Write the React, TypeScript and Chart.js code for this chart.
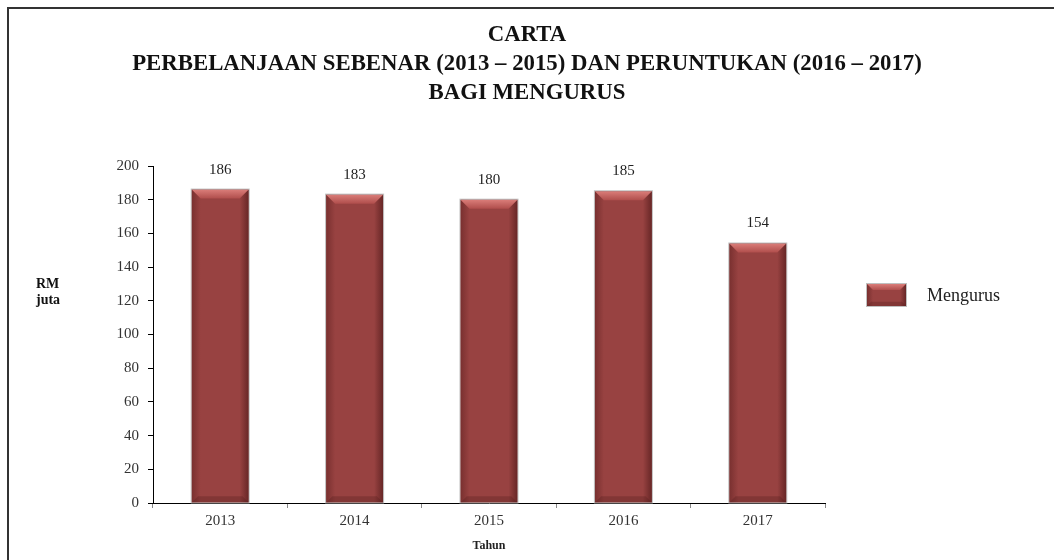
import React, { useEffect, useRef } from "react";
import { Chart, registerables } from "chart.js";

Chart.register(...registerables);

const titleLines = [
  "CARTA",
  "PERBELANJAAN SEBENAR (2013 – 2015) DAN PERUNTUKAN (2016 – 2017)",
  "BAGI MENGURUS",
];
const years = ["2013", "2014", "2015", "2016", "2017"];
const mengurus = [186, 183, 180, 185, 154];
const seriesLabel = "Mengurus";
const yTitleLines = ["RM", "juta"];
const xTitle = "Tahun";

const SERIF = "'Liberation Serif', 'Times New Roman', serif";
const BAR = "#984241";

function drawBevelBox(ctx: CanvasRenderingContext2D, l: number, t: number, r: number, b: number, bev: number) {
  ctx.save();
  ctx.fillStyle = BAR;
  ctx.fillRect(l, t, r - l, b - t);
  // left edge
  let g = ctx.createLinearGradient(l, 0, l + bev, 0);
  g.addColorStop(0, "rgba(90,30,30,0.5)");
  g.addColorStop(1, "rgba(90,30,30,0)");
  ctx.fillStyle = g;
  ctx.fillRect(l, t, bev, b - t);
  // right edge
  g = ctx.createLinearGradient(r - bev, 0, r, 0);
  g.addColorStop(0, "rgba(70,20,20,0)");
  g.addColorStop(1, "rgba(70,20,20,0.6)");
  ctx.fillStyle = g;
  ctx.fillRect(r - bev, t, bev, b - t);
  // top bevel
  const tb = Math.min(bev, (b - t) / 2);
  g = ctx.createLinearGradient(0, t, 0, t + tb);
  g.addColorStop(0, "#da7d79");
  g.addColorStop(1, "#b04e4c");
  ctx.fillStyle = g;
  ctx.beginPath();
  ctx.moveTo(l, t);
  ctx.lineTo(r, t);
  ctx.lineTo(r - tb, t + tb);
  ctx.lineTo(l + tb, t + tb);
  ctx.closePath();
  ctx.fill();
  // bottom bevel
  ctx.fillStyle = "rgba(80,25,25,0.3)";
  ctx.beginPath();
  ctx.moveTo(l, b);
  ctx.lineTo(r, b);
  ctx.lineTo(r - tb * 0.7, b - tb * 0.7);
  ctx.lineTo(l + tb * 0.7, b - tb * 0.7);
  ctx.closePath();
  ctx.fill();
  ctx.strokeStyle = "rgba(175,175,175,0.8)";
  ctx.lineWidth = 1;
  ctx.strokeRect(l - 0.5, t - 0.5, r - l + 1, b - t + 1);
  ctx.restore();
}

const decorPlugin = {
  id: "decor",
  beforeDraw(chart: any) {
    const ctx = chart.ctx as CanvasRenderingContext2D;
    ctx.save();
    ctx.fillStyle = "#ffffff";
    ctx.fillRect(0, 0, chart.width, chart.height);
    // frame
    ctx.strokeStyle = "#333333";
    ctx.lineWidth = 2;
    ctx.beginPath();
    ctx.moveTo(8, chart.height);
    ctx.lineTo(8, 8);
    ctx.lineTo(chart.width, 8);
    ctx.stroke();
    // title
    ctx.fillStyle = "#111111";
    ctx.font = `bold 22.8px ${SERIF}`;
    ctx.textAlign = "center";
    ctx.textBaseline = "middle";
    titleLines.forEach((line, i) => ctx.fillText(line, 527, 35 + i * 29));
    // y title
    ctx.font = `bold 14px ${SERIF}`;
    ctx.textAlign = "left";
    yTitleLines.forEach((line, i) => ctx.fillText(line, 36, 284 + i * 16));
    ctx.restore();
  },
  afterDatasetsDraw(chart: any) {
    const ctx = chart.ctx as CanvasRenderingContext2D;
    const meta = chart.getDatasetMeta(0);
    const ds = chart.data.datasets[0];
    meta.data.forEach((bar: any, i: number) => {
      const w = bar.width;
      const l = bar.x - w / 2;
      const r = bar.x + w / 2;
      drawBevelBox(ctx, l, bar.y, r, bar.base, 9);
      ctx.save();
      ctx.fillStyle = "#222222";
      ctx.font = `15px ${SERIF}`;
      ctx.textAlign = "center";
      ctx.textBaseline = "middle";
      ctx.fillText(String(ds.data[i]), bar.x, bar.y - 20);
      ctx.restore();
    });
    // legend
    drawBevelBox(ctx, 867, 284, 906, 306, 6);
    ctx.save();
    ctx.fillStyle = "#222222";
    ctx.font = `18px ${SERIF}`;
    ctx.textAlign = "left";
    ctx.textBaseline = "middle";
    ctx.fillText(ds.label, 927, 296);
    ctx.restore();
  },
};

export default function App() {
  const ref = useRef<HTMLCanvasElement>(null);
  useEffect(() => {
    document.body.style.margin = "0";
    document.body.style.overflow = "hidden";
    const chart = new Chart(ref.current as HTMLCanvasElement, {
      type: "bar",
      data: {
        labels: years,
        datasets: [
          {
            label: seriesLabel,
            data: mengurus,
            backgroundColor: BAR,
            borderWidth: 0,
            barPercentage: 0.424,
            categoryPercentage: 1,
          },
        ],
      },
      options: {
        animation: false,
        responsive: false,
        layout: { padding: { left: 0, right: 229, top: 166, bottom: 0 } },
        plugins: {
          legend: { display: false },
          title: { display: false },
          tooltip: { enabled: false },
        },
        scales: {
          x: {
            grid: {
              offset: true,
              drawOnChartArea: false,
              tickLength: 5,
              color: "#888888",
            },
            border: { color: "#000000", width: 1 },
            ticks: {
              color: "#333333",
              font: { family: SERIF, size: 15 },
              padding: 4,
            },
            title: {
              display: true,
              text: xTitle,
              color: "#222222",
              font: { family: SERIF, size: 12, weight: "bold" },
              padding: { top: 0, bottom: 7 },
            },
            afterFit(scale: any) {
              scale.height = 57;
            },
          },
          y: {
            min: 0,
            max: 200,
            ticks: {
              stepSize: 20,
              color: "#333333",
              font: { family: SERIF, size: 15 },
              padding: 9,
            },
            grid: {
              drawOnChartArea: false,
              tickLength: 5,
              color: "#000000",
            },
            border: { color: "#000000", width: 1 },
            afterFit(scale: any) {
              scale.width = 153;
            },
          },
        },
      },
      plugins: [decorPlugin],
    });
    return () => chart.destroy();
  }, []);
  return (
    <div style={{ position: "absolute", left: 0, top: 0, width: 1054, height: 560 }}>
      <canvas ref={ref} width={1054} height={560} style={{ display: "block" }} />
    </div>
  );
}
